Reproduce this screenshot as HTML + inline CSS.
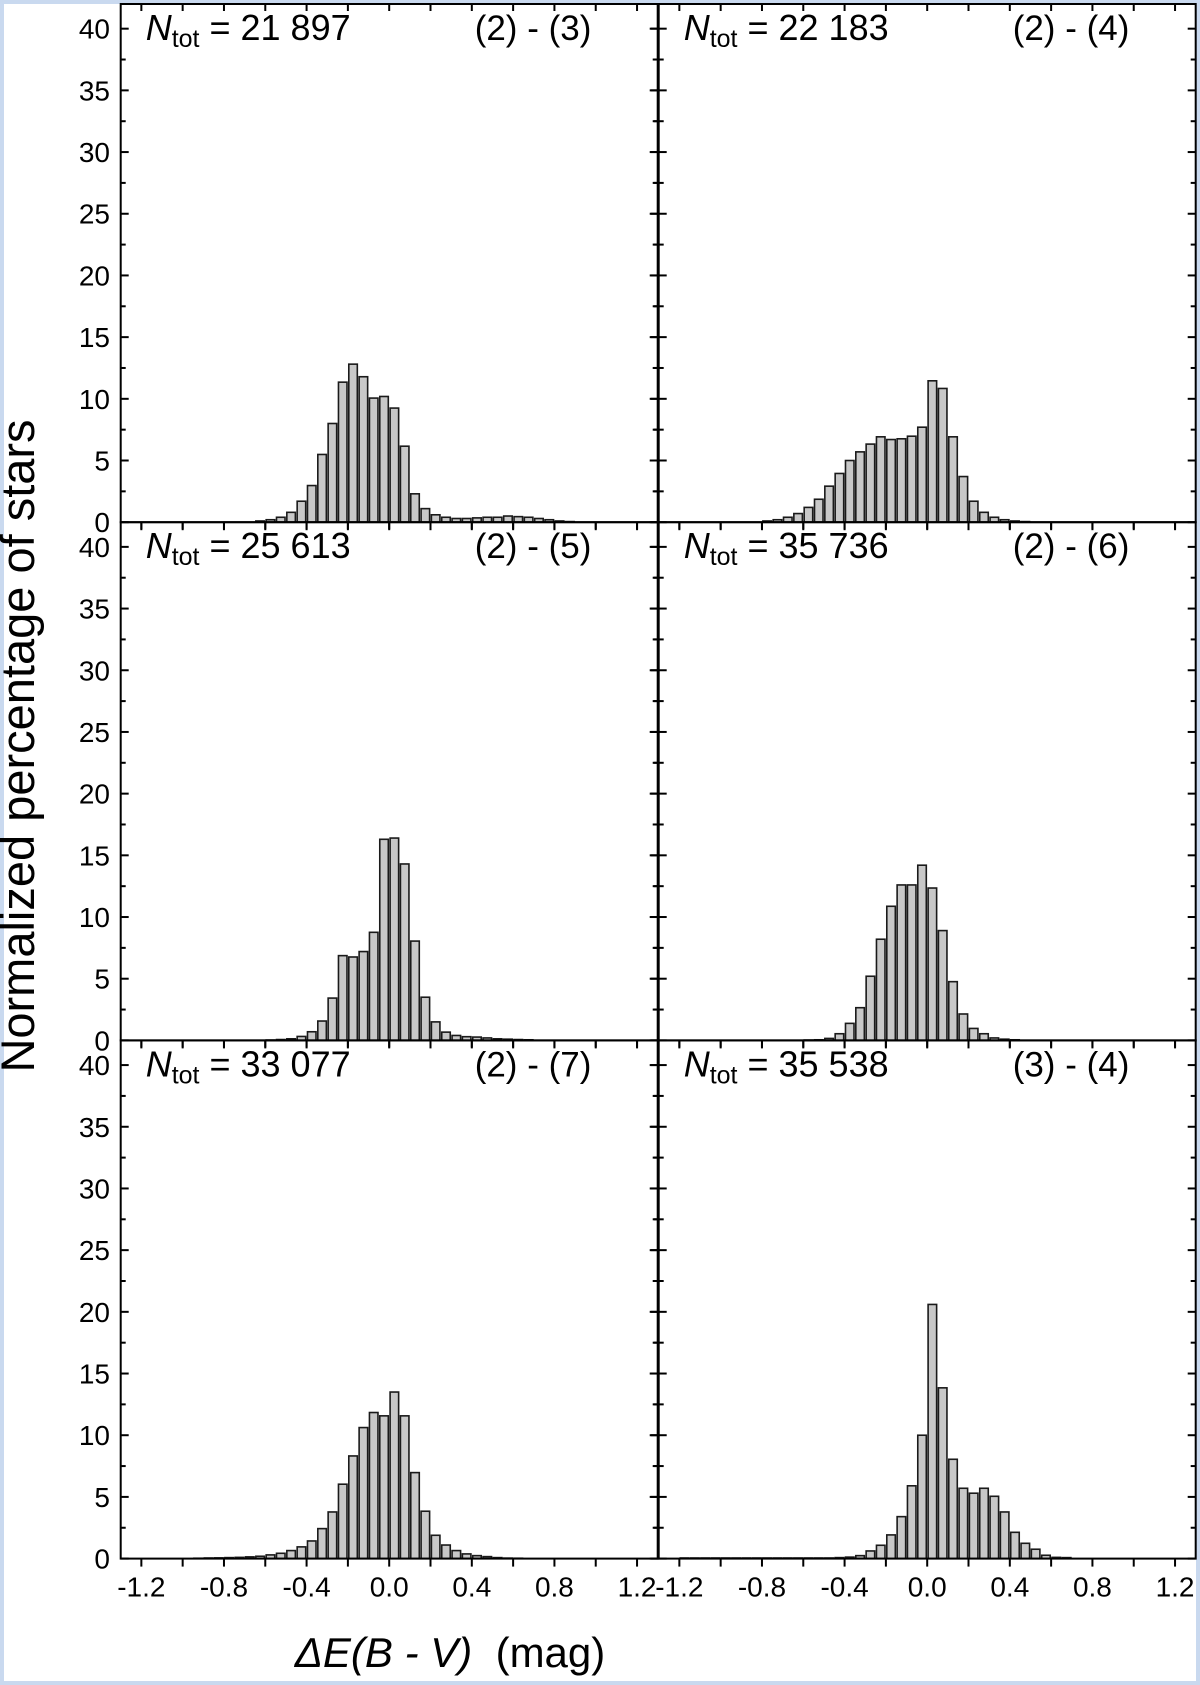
<!DOCTYPE html>
<html>
<head>
<meta charset="utf-8">
<style>
  html,body{margin:0;padding:0;background:#fff;}
  body{width:1200px;height:1685px;overflow:hidden;}
  #frame{position:absolute;left:0;top:0;width:1192px;height:1677px;border:4px solid #c9d9ef;background:#fff;}
  svg{position:absolute;left:0;top:0;}
  text{font-family:"Liberation Sans",sans-serif;fill:#000;}
</style>
</head>
<body>
<div id="frame"></div>
<svg id="chart" width="1200" height="1685">
  <text x="34" y="746" font-size="47" text-anchor="middle" transform="rotate(-90 34 746)">Normalized percentage of stars</text>
  <text x="450" y="1667" font-size="42" text-anchor="middle"><tspan font-style="italic">ΔE(B - V)</tspan>&#160; (mag)</text>
</svg>
<script>
// ---- data ----
const binWidth = 0.05;
const panelLabels = ["(2) - (3)", "(2) - (4)", "(2) - (5)", "(2) - (6)", "(2) - (7)", "(3) - (4)"];
const panelNtot = ["21 897", "22 183", "25 613", "35 736", "33 077", "35 538"];
const panelStarts = [-0.65, -0.80, -0.60, -0.60, -0.95, -1.20];
const values23 = [0.1,0.2,0.4,0.8,1.7,2.97,5.49,8.0,11.35,12.81,11.79,10.06,10.19,9.25,6.16,2.3,1.1,0.6,0.4,0.3,0.3,0.35,0.4,0.4,0.5,0.45,0.4,0.3,0.2,0.1,0.05];
const values24 = [0.1,0.2,0.4,0.7,1.2,1.86,2.92,3.95,5.0,5.7,6.33,6.92,6.7,6.76,6.97,7.7,11.46,10.84,6.92,3.7,1.7,0.8,0.4,0.2,0.1,0.05];
const values25 = [0.03,0.07,0.13,0.32,0.7,1.57,3.43,6.87,6.76,7.2,8.76,16.3,16.4,14.3,8.05,3.5,1.5,0.67,0.4,0.3,0.27,0.2,0.13,0.1,0.07,0.05];
const values26 = [0.03,0.05,0.16,0.54,1.38,2.65,5.2,8.2,10.87,12.6,12.6,14.2,12.35,8.9,4.76,2.14,0.97,0.54,0.2,0.1,0.05];
const values27 = [0.03,0.05,0.06,0.08,0.1,0.14,0.19,0.3,0.43,0.65,0.95,1.43,2.43,3.78,6.03,8.32,10.62,11.84,11.57,13.5,11.57,6.97,3.84,1.89,1.1,0.65,0.38,0.24,0.16,0.08,0.04,0.03];
const values34 = [0.05,0.05,0.05,0.05,0.05,0.05,0.05,0.05,0.05,0.05,0.05,0.05,0.05,0.05,0.05,0.08,0.12,0.24,0.62,1.08,1.92,3.4,5.9,10.0,20.6,13.84,8.05,5.7,5.3,5.7,5.05,3.78,2.13,1.24,0.76,0.27,0.1,0.08];
const panelValues = [values23, values24, values25, values26, values27, values34];
const xTickLabels = ["-1.2","-0.8","-0.4","0.0","0.4","0.8","1.2"];
const xTickValues = [-1.2,-0.8,-0.4,0.0,0.4,0.8,1.2];
const yTickValues = [0,5,10,15,20,25,30,35,40];

// ---- layout ----
const NS = "http://www.w3.org/2000/svg";
const svg = document.getElementById('chart');
const colX = [120.7, 658.7];
const panelW = 537;
const rowTop0 = 4, rowH = 518.2;
const xMin = -1.3, xMax = 1.3, yMax = 42;

function mk(tag, attrs, parent){
  const e = document.createElementNS(NS, tag);
  for (const k in attrs) e.setAttribute(k, attrs[k]);
  parent.appendChild(e);
  return e;
}

for (let p = 0; p < 6; p++) {
  const col = p % 2, row = Math.floor(p / 2);
  const x0 = colX[col], top = rowTop0 + row * rowH, bottom = top + rowH;
  const xs = v => x0 + (v - xMin) / (xMax - xMin) * panelW;
  const ys = v => bottom - v / yMax * rowH;

  const g = document.createElementNS(NS, 'g');
  
  
  svg.appendChild(g);

  const vals = panelValues[p];
  for (let i = 0; i < vals.length; i++) {
    const left = panelStarts[p] + i * binWidth;
    const xl = xs(left) + 0.9, xr = xs(left + binWidth) - 0.9;
    const yt = ys(vals[i]);
    const r = mk('rect', {x: xl, y: yt, width: Math.max(0, xr - xl), height: Math.max(0, bottom - yt),
      fill: '#c8c8c8', stroke: '#1a1a1a', 'stroke-width': 1.6}, g);
    
    
  }

  const fr = mk('rect', {x: x0, y: top, width: panelW, height: rowH, fill: 'none', stroke: '#000', 'stroke-width': 2}, g);
  
  

  for (let k = -6; k <= 6; k++) {
    const xv = k * 0.2, xp = xs(xv);
    mk('line', {x1: xp, y1: bottom, x2: xp, y2: bottom + 8, stroke: '#000', 'stroke-width': 2}, g);
    mk('line', {x1: xp, y1: top, x2: xp, y2: top + 7, stroke: '#000', 'stroke-width': 2}, g);
  }
  for (let k = 0; k <= 16; k++) {
    const yv = k * 2.5, yp = ys(yv), len = (k % 2 === 0) ? 8 : 5;
    mk('line', {x1: x0, y1: yp, x2: x0 + len, y2: yp, stroke: '#000', 'stroke-width': 2}, g);
    if (col === 1) mk('line', {x1: x0 - len, y1: yp, x2: x0, y2: yp, stroke: '#000', 'stroke-width': 2}, g);
    mk('line', {x1: x0 + panelW - len, y1: yp, x2: x0 + panelW, y2: yp, stroke: '#000', 'stroke-width': 2}, g);
  }
  if (col === 0) {
    for (let k = 0; k < yTickValues.length; k++) {
      const t = mk('text', {x: 110, y: ys(yTickValues[k]) + 10, 'font-size': 28, 'text-anchor': 'end'}, svg);
      t.textContent = String(yTickValues[k]);
      
      
    }
  }
  if (row === 2) {
    for (let k = 0; k < xTickValues.length; k++) {
      const t = mk('text', {x: xs(xTickValues[k]), y: bottom + 38, 'font-size': 28, 'text-anchor': 'middle'}, svg);
      t.textContent = xTickLabels[k];
      
      
    }
  }
  const nt = mk('text', {x: x0 + 25, y: top + 36, 'font-size': 36}, svg);
  
  
  const t1 = mk('tspan', {'font-style': 'italic'}, nt); t1.textContent = 'N';
  const t2 = mk('tspan', {'font-size': 25, dy: 7}, nt); t2.textContent = 'tot';
  const t3 = mk('tspan', {dy: -7}, nt); t3.textContent = ' = ' + panelNtot[p];
  const pl = mk('text', {x: x0 + 354, y: top + 36, 'font-size': 35}, svg);
  pl.textContent = panelLabels[p];
  
  
}
</script>
</body>
</html>
